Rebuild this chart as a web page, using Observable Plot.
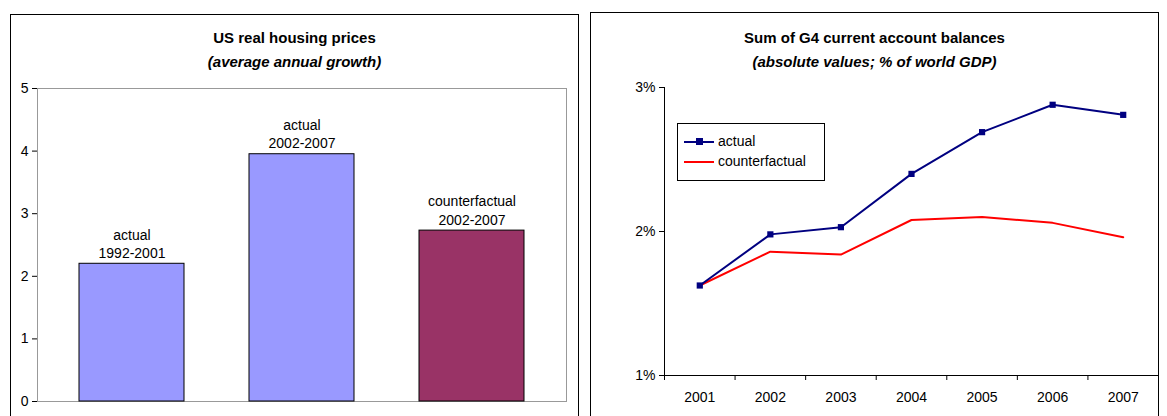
<!DOCTYPE html>
<html><head><meta charset="utf-8">
<script src="https://cdn.jsdelivr.net/npm/d3@7"></script>
<script src="https://cdn.jsdelivr.net/npm/@observablehq/plot@0.6"></script>
<style>
body{margin:0;background:#fff;font-family:Arial,"Liberation Sans",sans-serif;}
.panel{position:absolute;border:1px solid #000;border-bottom:none;background:#fff;overflow:hidden}
.t{position:absolute;left:0;right:0;text-align:center;font-weight:bold;font-size:15px;color:#000}
.panel svg{position:absolute;left:0;top:0}
#leg{position:absolute;left:86px;top:110px;width:146px;height:56px;border:1px solid #000;background:#fff;font-size:14px}
#leg div{position:absolute;left:6px;height:18px;line-height:18px}
#leg span{display:inline-block;width:30px;height:2px;vertical-align:middle;margin-right:4px;position:relative}
</style></head><body>
<div id="p1" class="panel" style="left:10px;top:14px;width:567px;height:410px">
  <div class="t" style="top:14px">US real housing prices</div>
  <div class="t" style="top:38px;font-style:italic">(average annual growth)</div>
</div>
<div id="p2" class="panel" style="left:590px;top:12px;width:567px;height:410px">
  <div class="t" style="top:16px">Sum of G4 current account balances</div>
  <div class="t" style="top:40px;font-style:italic">(absolute values; % of world GDP)</div>
  <div id="leg">
    <div style="top:8px"><span style="background:#000080"><i style="position:absolute;left:12px;top:-3px;width:7px;height:7px;background:#000080"></i></span>actual</div>
    <div style="top:28px"><span style="background:#ff0000"></span>counterfactual</div>
  </div>
</div>
<script>
const barLabels = ["actual\n1992-2001", "actual\n2002-2007", "counterfactual\n2002-2007"];
const barValues = [2.2, 3.95, 2.73];
const barColors = ["#9999ff", "#9999ff", "#993366"];

const years = [2001, 2002, 2003, 2004, 2005, 2006, 2007];
const actual = [1.625, 1.98, 2.03, 2.40, 2.69, 2.88, 2.81];
const counterfactual = [1.625, 1.86, 1.84, 2.08, 2.10, 2.06, 1.96];

const bars = barLabels.map((l, i) => ({label: l, value: barValues[i], color: barColors[i]}));

const left = Plot.plot({
  width: 567, height: 402,
  marginLeft: 26, marginRight: 12, marginTop: 73, marginBottom: 16,
  style: {fontFamily: "Arial, 'Liberation Sans'", fontSize: "14px", color: "#000", background: "transparent"},
  x: {domain: barLabels, paddingInner: 0.38, paddingOuter: 0.24, axis: null},
  y: {domain: [0, 5]},
  marks: [
    Plot.frame({stroke: "#999"}),
    Plot.barY(bars, {x: "label", y: "value", fill: "color", stroke: "#000", strokeWidth: 1}),
    Plot.text(bars, {x: "label", y: "value", text: "label", lineAnchor: "bottom", dy: -6, fontSize: 14, lineHeight: 1.3}),
    Plot.axisY({ticks: [0,1,2,3,4,5], tickFormat: d => String(d), tickSize: 5, label: null, fontSize: 14})
  ]
});
document.getElementById("p1").appendChild(left);

const rows = years.flatMap((y, i) => [
  {year: y, v: actual[i], s: "actual"},
  {year: y, v: counterfactual[i], s: "counterfactual"}
]);
const right = Plot.plot({
  width: 567, height: 404,
  marginLeft: 73, marginRight: 0, marginTop: 74, marginBottom: 42,
  style: {fontFamily: "Arial, 'Liberation Sans'", fontSize: "14px", color: "#000", background: "transparent"},
  x: {domain: [2000.5, 2007.5], axis: null},
  y: {domain: [1, 3], axis: null},
  marks: [
    Plot.ruleY([1]),
    Plot.ruleX([1], {x: () => 2000.5, y1: 1, y2: 3}),
    Plot.axisY({ticks: [1, 2, 3], tickFormat: d => d + "%", tickSize: 5, label: null, fontSize: 14}),
    Plot.axisX({ticks: d3.range(2000.5, 2008, 1), tickFormat: () => "", tickSize: 5, label: null}),
    Plot.text(years, {x: d => d, frameAnchor: "bottom", dy: 26, text: d => String(d), fontSize: 14}),
    Plot.line(rows.filter(d => d.s === "counterfactual"), {x: "year", y: "v", stroke: "#ff0000", strokeWidth: 2}),
    Plot.line(rows.filter(d => d.s === "actual"), {x: "year", y: "v", stroke: "#000080", strokeWidth: 2}),
    Plot.dot(rows.filter(d => d.s === "actual"), {x: "year", y: "v", symbol: "square", r: 3.5, fill: "#000080"})
  ]
});
document.getElementById("p2").appendChild(right);
</script>
</body></html>
